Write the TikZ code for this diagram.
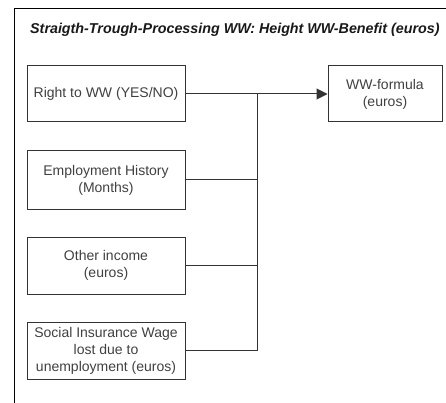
\documentclass[tikz,border=0pt]{standalone}
\usepackage{fontspec}
\setmainfont{Liberation Sans}
\usetikzlibrary{arrows.meta}
\definecolor{edgegray}{HTML}{333333}
\definecolor{textgray}{HTML}{404040}
\tikzset{
  inbox/.style={draw=edgegray, line width=1pt, minimum width=158pt, minimum height=56pt,
    align=center, inner sep=2pt, text=textgray, font=\fontsize{14}{17}\selectfont},
  outbox/.style={inbox, minimum width=114pt},
  link/.style={draw=edgegray, line width=1pt},
  frame/.style={draw=black, line width=1pt}
}
\begin{document}
\begin{tikzpicture}[x=1pt, y=-1pt]
  \useasboundingbox (0,0) rectangle (446,403);
  \clip (0,0) rectangle (446,403);
  % surrounding frame, open to the right and below
  \draw[frame] (14,420) -- (14,9) -- (460,9);
  \node[anchor=west, font=\fontsize{14.3}{17}\selectfont\bfseries\itshape, text=black!90, inner sep=0pt]
    (title) at (30,30) {Straigth-Trough-Processing WW: Height WW-Benefit (euros)};

  \node[inbox] (right) at (106,94) {Right to WW (YES/NO)};
  \node[inbox, minimum height=58pt] (hist) at (106,180) {Employment History\\(Months)};
  \node[inbox, minimum height=57pt] (other) at (106,265.5) {Other income\\(euros)};
  \node[inbox, minimum height=57pt] (wage) at (106,350.5) {Social Insurance Wage\\lost due to\\unemployment (euros)};
  \node[outbox] (formula) at (385,94) {WW-formula\\(euros)};

  \coordinate (join) at (257,94);
  \draw[link, -{Triangle[length=11pt, width=11pt]}] (right) -- (formula);
  \draw[link] (hist.east) -| (join);
  \draw[link] (other.east) -| (join);
  \draw[link] (wage.east) -| (join);
\end{tikzpicture}
\end{document}
